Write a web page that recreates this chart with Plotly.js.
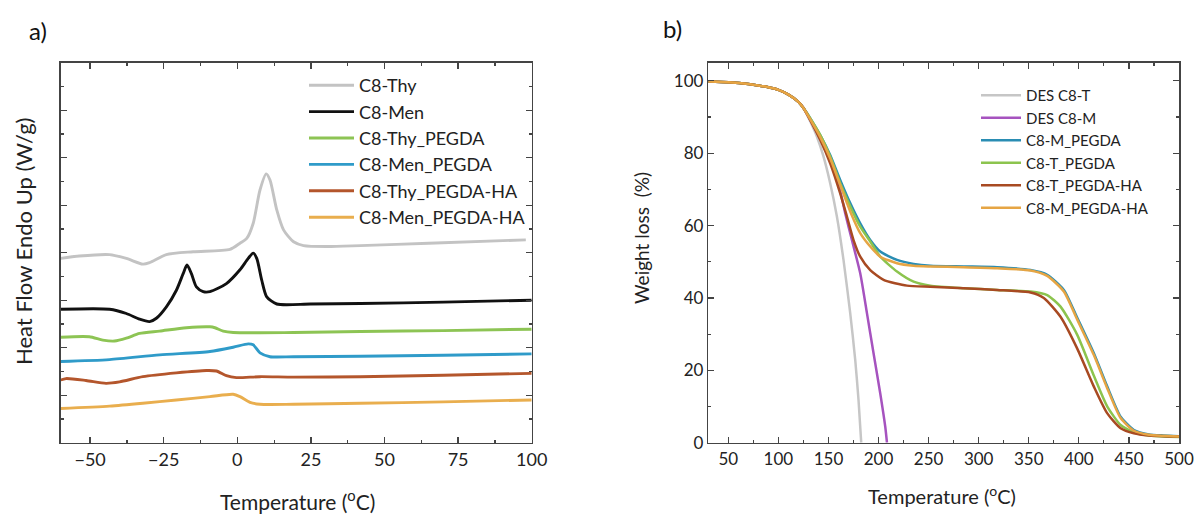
<!DOCTYPE html>
<html>
<head>
<meta charset="utf-8">
<script src="https://cdn.plot.ly/plotly-3.0.1.min.js"></script>
<style>html,body{margin:0;padding:0;background:#fff;}#chart{width:1195px;height:516px;}</style>
</head>
<body>
<div id="chart"></div>
<script>
// ---------- Panel a) DSC ----------
const dscNames = ["C8-Thy", "C8-Men", "C8-Thy_PEGDA", "C8-Men_PEGDA", "C8-Thy_PEGDA-HA", "C8-Men_PEGDA-HA"];

const thyX = [-60, -53.7, -43.4, -37.7, -32.1, -29.8, -24.1, -15, -2.5, 0.9, 3.2, 5.4, 7.7, 9.8, 11.1, 13.4, 15.7, 19.1, 22.5, 30.4, 41.8, 65, 98];
const thyY = [3.88, 3.93, 3.96, 3.88, 3.76, 3.79, 3.96, 4.02, 4.07, 4.2, 4.3, 4.62, 5.32, 5.66, 5.53, 4.9, 4.48, 4.23, 4.15, 4.13, 4.15, 4.2, 4.27];

const menX = [-60, -43.4, -37.7, -33.2, -29.8, -27.5, -24.1, -20.7, -18.4, -17.1, -15.6, -13.9, -11.6, -9.3, -3.7, 0.9, 3.7, 5.4, 6.6, 8.3, 10, 13.4, 24.8, 41.8, 70, 100];
const menY = [2.81, 2.81, 2.72, 2.6, 2.55, 2.62, 2.86, 3.21, 3.56, 3.74, 3.56, 3.28, 3.18, 3.18, 3.35, 3.64, 3.88, 3.99, 3.88, 3.42, 3.07, 2.92, 2.92, 2.93, 2.96, 3.0];

const thyPegX = [-60, -50.3, -45.7, -41.7, -37.7, -33.2, -26.4, -17.3, -9.3, -7.6, -4.8, -1.4, 19.1, 41.8, 70, 100];
const thyPegY = [2.22, 2.23, 2.16, 2.14, 2.2, 2.3, 2.35, 2.42, 2.44, 2.42, 2.35, 2.32, 2.32, 2.34, 2.36, 2.39];

const menPegX = [-60, -43.4, -26.4, -9.3, -1.4, 3.7, 5.4, 7.7, 11.1, 19.1, 41.8, 70, 100];
const menPegY = [1.71, 1.75, 1.85, 1.92, 2.01, 2.08, 2.06, 1.89, 1.81, 1.81, 1.82, 1.84, 1.87];

const thyHaX = [-60, -58.2, -51.4, -44.6, -40, -32.1, -20.7, -10.5, -7.1, -3.7, -0.3, 7.7, 19.1, 41.8, 70, 100];
const thyHaY = [1.32, 1.35, 1.31, 1.25, 1.28, 1.39, 1.47, 1.52, 1.51, 1.41, 1.37, 1.39, 1.38, 1.39, 1.42, 1.46];

const menHaX = [-60, -43.4, -32.1, -20.7, -9.3, -1.4, 0.9, 4.3, 7.7, 19.1, 41.8, 70, 100];
const menHaY = [0.72, 0.77, 0.83, 0.9, 0.97, 1.02, 0.97, 0.85, 0.81, 0.81, 0.83, 0.86, 0.9];

const dscColors = ["#c3c3c3", "#111111", "#8dc454", "#2f9bc9", "#b4562c", "#e9ae4e"];

// ---------- Panel b) TGA ----------
const tgaNames = ["DES C8-T", "DES C8-M", "C8-M_PEGDA", "C8-T_PEGDA", "C8-T_PEGDA-HA", "C8-M_PEGDA-HA"];

const desTX = [30, 50, 70, 90, 100, 110, 120, 125, 131.7, 138.4, 145, 151.7, 158.4, 165, 171.7, 176.7, 180, 182.7];
const desTY = [99.8, 99.6, 99.1, 98.2, 97.5, 96.2, 94.2, 92.5, 88.8, 84.6, 79.1, 71.7, 62.5, 50.5, 35.8, 22.9, 11.8, 0];

const desMX = [30, 50, 70, 90, 100, 110, 120, 125, 131.7, 141.7, 151.7, 161.7, 166.7, 173.4, 181.7, 188.4, 195, 201.7, 206.7, 208.4];
const desMY = [99.8, 99.6, 99.1, 98.2, 97.5, 96.2, 94.2, 92.5, 89.3, 84.0, 78.0, 69.5, 63.4, 56.0, 46.8, 35.8, 24.7, 13.6, 4.4, 0];

const mPegX = [30, 50, 70, 90, 100, 110, 120, 125, 131.7, 141.7, 151.7, 161.7, 171.7, 181.7, 191.7, 201.7, 218.4, 235, 251.7, 285, 318.4, 351.7, 368.4, 385, 398.4, 415, 428.4, 441.7, 455, 470, 485, 500];
const mPegY = [99.8, 99.6, 99.1, 98.2, 97.5, 96.2, 94.2, 92.5, 89.7, 85.0, 79.5, 72.6, 66.2, 60.6, 56.0, 52.8, 50.5, 49.4, 48.9, 48.7, 48.5, 47.7, 46.4, 42.2, 34.5, 24.7, 15.5, 7.2, 3.5, 2.3, 2.0, 1.8];

const tPegX = [30, 50, 70, 90, 100, 110, 120, 125, 131.7, 141.7, 151.7, 161.7, 171.7, 181.7, 191.7, 201.7, 218.4, 235, 251.7, 285, 318.4, 351.7, 368.4, 381.7, 398.4, 415, 428.4, 441.7, 455, 470, 485, 500];
const tPegY = [99.8, 99.6, 99.1, 98.2, 97.5, 96.2, 94.2, 92.5, 89.7, 85.1, 79.1, 71.7, 65.3, 59.7, 55.6, 51.4, 47.3, 44.5, 43.4, 42.7, 42.2, 41.8, 40.8, 37.6, 29.8, 18.5, 10.0, 4.9, 2.8, 2.0, 1.7, 1.6];

const tHaX = [30, 50, 70, 90, 100, 110, 120, 125, 131.7, 141.7, 151.7, 161.7, 168.4, 175, 181.7, 191.7, 205, 228.4, 251.7, 285, 318.4, 351.7, 365, 381.7, 398.4, 415, 428.4, 441.7, 455, 470, 485, 500];
const tHaY = [99.8, 99.6, 99.1, 98.2, 97.5, 96.2, 94.2, 92.5, 89.2, 83.7, 77.2, 68.9, 62.5, 56.0, 51.4, 47.7, 45.0, 43.4, 43.1, 42.7, 42.2, 41.5, 40.0, 34.8, 26.0, 15.5, 8.1, 4.0, 2.6, 2.0, 1.8, 1.7];

const mHaX = [30, 50, 70, 90, 100, 110, 120, 125, 131.7, 141.7, 151.7, 161.7, 171.7, 181.7, 191.7, 201.7, 218.4, 235, 251.7, 285, 318.4, 351.7, 368.4, 385, 398.4, 415, 428.4, 441.7, 455, 470, 485, 500];
const mHaY = [99.8, 99.6, 99.1, 98.2, 97.5, 96.2, 94.2, 92.5, 89.4, 84.5, 78.6, 71.2, 63.9, 57.9, 54.2, 51.4, 49.6, 48.9, 48.7, 48.5, 48.2, 47.6, 46.1, 41.8, 34.0, 24.2, 15.0, 6.8, 3.3, 2.2, 1.9, 1.7];

const tgaColors = ["#c6c6c6", "#a653bf", "#2a8db3", "#8cc44e", "#a84a22", "#e6a544"];

const dscX = [thyX, menX, thyPegX, menPegX, thyHaX, menHaX];
const dscY = [thyY, menY, thyPegY, menPegY, thyHaY, menHaY];
const tgaX = [desTX, desMX, mPegX, tPegX, tHaX, mHaX];
const tgaY = [desTY, desMY, mPegY, tPegY, tHaY, mHaY];

const FONT = "Lato, 'Open Sans', sans-serif";
const traces = [];
dscNames.forEach((n, i) => traces.push({
  x: dscX[i], y: dscY[i], name: n, type: "scatter", mode: "lines",
  xaxis: "x", yaxis: "y", legend: "legend",
  line: {color: dscColors[i], width: 2.9, shape: "spline", smoothing: 0.7}
}));
tgaNames.forEach((n, i) => traces.push({
  x: tgaX[i], y: tgaY[i], name: n, type: "scatter", mode: "lines",
  xaxis: "x2", yaxis: "y2", legend: "legend2",
  line: {color: tgaColors[i], width: 2.5, shape: "spline", smoothing: 0.6}
}));

const frame = {
  showline: true, linecolor: "#444", linewidth: 1.5, mirror: "ticks",
  ticks: "inside", ticklen: 6, tickwidth: 1.3, tickcolor: "#444",
  showgrid: false, zeroline: false, fixedrange: true,
  tickfont: {family: FONT, size: 18, color: "#222"}
};
const yDom = [(516 - 442.7) / 516, (516 - 62.7) / 516];

const layout = {
  width: 1195, height: 516,
  margin: {l: 0, r: 0, t: 0, b: 0},
  paper_bgcolor: "#fff", plot_bgcolor: "#fff",
  font: {family: FONT, color: "#222"},
  showlegend: true,
  xaxis: Object.assign({}, frame, {
    domain: [60.7 / 1195, 531.7 / 1195], range: [-60, 100], tick0: 0, dtick: 25,
    minor: {dtick: 12.5, ticks: "inside", ticklen: 3, tickcolor: "#444", tickwidth: 1.2},
    anchor: "y"
  }),
  yaxis: Object.assign({}, frame, {
    domain: yDom, range: [0, 8], dtick: 1, showticklabels: false,
    minor: {dtick: 0.5, ticks: "inside", ticklen: 3, tickcolor: "#444", tickwidth: 1.2},
    anchor: "x"
  }),
  xaxis2: Object.assign({}, frame, {
    domain: [708.3 / 1195, 1179 / 1195], range: [30, 500], tick0: 0, dtick: 50,
    tickfont: {family: FONT, size: 17, color: "#222"},
    minor: {dtick: 25, ticks: "inside", ticklen: 3, tickcolor: "#444", tickwidth: 1.2},
    anchor: "y2"
  }),
  yaxis2: Object.assign({}, frame, {
    domain: yDom, range: [0, 105], dtick: 20,
    tickfont: {family: FONT, size: 17, color: "#222"},
    minor: {dtick: 10, ticks: "inside", ticklen: 3, tickcolor: "#444", tickwidth: 1.2},
    anchor: "x2"
  }),
  legend: {
    x: 304 / 1195, y: (516 - 67) / 516, xanchor: "left", yanchor: "top",
    bgcolor: "rgba(0,0,0,0)", borderwidth: 0, itemwidth: 45,
    font: {family: FONT, size: 18, color: "#222"}, tracegroupgap: 0
  },
  legend2: {
    x: 976 / 1195, y: (516 - 79) / 516, xanchor: "left", yanchor: "top",
    bgcolor: "rgba(0,0,0,0)", borderwidth: 0, itemwidth: 40,
    font: {family: FONT, size: 15, color: "#222"}, tracegroupgap: 0
  },
  annotations: [
    {text: "a)", x: 38 / 1195, y: (516 - 31) / 516, xref: "paper", yref: "paper", showarrow: false,
     font: {family: FONT, size: 24, color: "#111"}, xanchor: "center", yanchor: "middle"},
    {text: "b)", x: 672 / 1195, y: (516 - 29) / 516, xref: "paper", yref: "paper", showarrow: false,
     font: {family: FONT, size: 24, color: "#111"}, xanchor: "center", yanchor: "middle"},
    {text: "Temperature (<sup>o</sup>C)", x: 297 / 1195, y: (516 - 500) / 516, xref: "paper", yref: "paper",
     showarrow: false, font: {family: FONT, size: 21, color: "#222"}, xanchor: "center", yanchor: "middle"},
    {text: "Temperature (<sup>o</sup>C)", x: 942 / 1195, y: (516 - 495) / 516, xref: "paper", yref: "paper",
     showarrow: false, font: {family: FONT, size: 20, color: "#222"}, xanchor: "center", yanchor: "middle"},
    {text: "Heat Flow Endo Up (W/g)", x: 24 / 1195, y: (516 - 242) / 516, xref: "paper", yref: "paper",
     showarrow: false, textangle: -90, font: {family: FONT, size: 22, color: "#222"}, xanchor: "center", yanchor: "middle"},
    {text: "Weight loss&nbsp;&nbsp;(%)", x: 641 / 1195, y: (516 - 238) / 516, xref: "paper", yref: "paper",
     showarrow: false, textangle: -90, font: {family: FONT, size: 19, color: "#222"}, xanchor: "center", yanchor: "middle"}
  ]
};

Plotly.newPlot("chart", traces, layout, {displayModeBar: false, staticPlot: true});
</script>
</body>
</html>
